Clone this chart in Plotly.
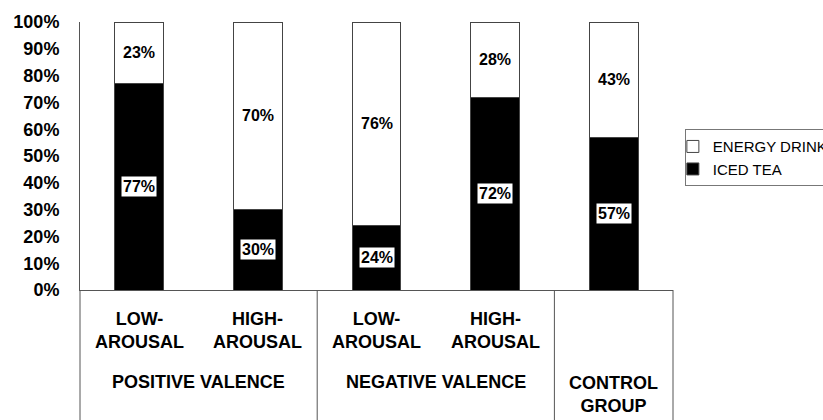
import plotly.graph_objects as go

conditions = ["POS-LOW", "POS-HIGH", "NEG-LOW", "NEG-HIGH", "CONTROL"]
arousal_labels = ["LOW-<br>AROUSAL", "HIGH-<br>AROUSAL", "LOW-<br>AROUSAL", "HIGH-<br>AROUSAL", ""]
group_labels = ["POSITIVE VALENCE", "NEGATIVE VALENCE", "CONTROL<br>GROUP"]
group_members = [[0, 1], [2, 3], [4]]
iced_tea = [77, 30, 24, 72, 57]
energy_drink = [23, 70, 76, 28, 43]
y_ticks = [0, 10, 20, 30, 40, 50, 60, 70, 80, 90, 100]

FONT = "Liberation Sans, Arial, sans-serif"
LINE = "#555555"

fig = go.Figure()
fig.add_trace(go.Bar(
    x=conditions, y=iced_tea, name="ICED TEA",
    marker=dict(color="black", line=dict(color="#444444", width=1)),
))
fig.add_trace(go.Bar(
    x=conditions, y=energy_drink, name="ENERGY DRINK",
    marker=dict(color="white", line=dict(color="#444444", width=1)),
))

annotations = []
for i, c in enumerate(conditions):
    it = iced_tea[i]
    ed = energy_drink[i]
    annotations.append(dict(
        x=c, y=it / 2, xref="x", yref="y", text=f"<b>{it}%</b>", showarrow=False,
        font=dict(family=FONT, size=16, color="black"), bgcolor="white", borderpad=1,
    ))
    annotations.append(dict(
        x=c, y=it + ed / 2, xref="x", yref="y", text=f"<b>{ed}%</b>", showarrow=False,
        font=dict(family=FONT, size=16, color="black"),
    ))
    if arousal_labels[i]:
        annotations.append(dict(
            x=c, y=-0.15, xref="x", yref="paper", text=f"<b>{arousal_labels[i]}</b>",
            showarrow=False, yanchor="middle", xanchor="center",
            font=dict(family=FONT, size=18, color="black"),
        ))

n = len(conditions)
group_y = [-0.345, -0.345, -0.39]
for g, members in enumerate(group_members):
    xc = (members[0] + members[-1] + 1) / 2 / n
    annotations.append(dict(
        x=xc, y=group_y[g], xref="paper", yref="paper", text=f"<b>{group_labels[g]}</b>",
        showarrow=False, yanchor="middle", xanchor="center",
        font=dict(family=FONT, size=18, color="black"),
    ))

shapes = []
boundaries = [0] + [members[-1] + 1 for members in group_members]
for b in boundaries:
    shapes.append(dict(
        type="line", xref="paper", yref="paper", x0=b / n, x1=b / n, y0=0, y1=-0.49,
        line=dict(color=LINE, width=1),
    ))

fig.update_layout(
    barmode="stack",
    bargap=0.587,
    width=823, height=420,
    margin=dict(l=80, r=150, t=22, b=130, autoexpand=False),
    paper_bgcolor="white", plot_bgcolor="white",
    showlegend=True,
    legend=dict(
        x=1.02, y=0.6, xanchor="left", yanchor="top",
        traceorder="reversed",
        bordercolor="#777777", borderwidth=1,
        font=dict(family=FONT, size=15, color="black"),
        itemwidth=30, tracegroupgap=0, indentation=-13,
    ),
    xaxis=dict(
        range=[-0.5, n - 0.5], showticklabels=False, ticks="",
        showline=True, linecolor=LINE, linewidth=1, showgrid=False, zeroline=False,
    ),
    yaxis=dict(
        range=[0, 100], tickvals=y_ticks, ticktext=[f"<b>{v}%</b>" for v in y_ticks],
        showline=True, linecolor=LINE, linewidth=1, showgrid=False, zeroline=False,
        ticks="", ticklabelstandoff=16,
        tickfont=dict(family=FONT, size=18, color="black"),
    ),
    annotations=annotations,
    shapes=shapes,
)

fig.write_html(
    "out.html",
    config={"displayModeBar": False},
    post_script="document.body.style.margin='0';",
)
